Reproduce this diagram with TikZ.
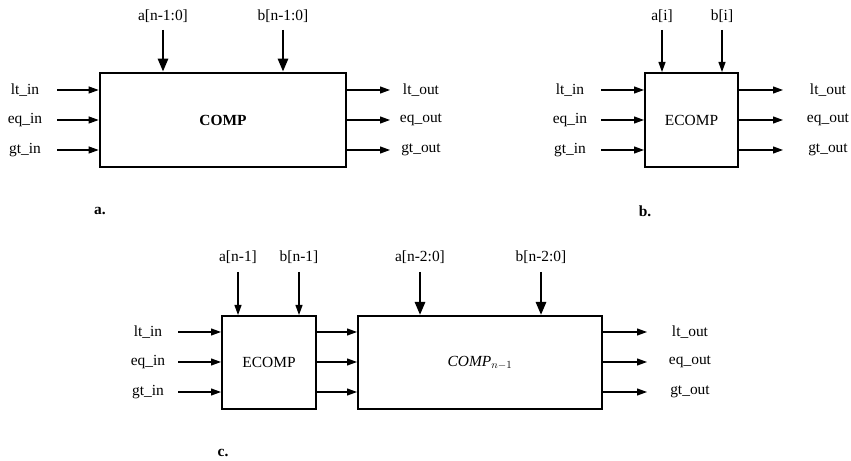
\documentclass[tikz,border=0pt]{standalone}
\usepackage{fontspec}
\setmainfont{Liberation Serif}
\usetikzlibrary{arrows.meta}

\begin{document}
\begin{tikzpicture}[x=1bp, y=-1bp, font=\fontsize{15.5}{18}\selectfont,
    sig/.style={line width=1.1bp, -{Triangle[length=10bp,width=7bp]}},
    bus/.style={line width=2.7bp, -{Triangle[length=13bp,width=10bp]}},
    blk/.style={draw, line width=2bp, inner sep=0pt}]
  \useasboundingbox (0,0) rectangle (851,461);

  % a. the n-bit comparator
  \node[blk, line width=2.7bp, minimum width=246bp, minimum height=94bp] (comp) at (223,120) {\textbf{COMP}};
  \foreach \s/\dy in {lt/-30, eq/0, gt/30} {
    \node (ina\s) at (25,{120+\dy}) {\s\_in};
    \coordinate (ia\s) at (57,{120+\dy});
    \draw[sig] (ia\s) -- (ia\s -| comp.west);
    \coordinate (oa\s) at (390,{120+\dy});
    \draw[sig] (oa\s -| comp.east) -- (oa\s);
    \node (outa\s) at (421,{120+\dy}) {\s\_out};
  }
  \foreach \v/\x in {a/163, b/283} {
    \node (bus\v) at (\x,16) {\v[n-1:0]};
    \coordinate (tb\v) at (\x,30);
    \draw[bus] (tb\v) -- (tb\v |- comp.north);
  }
  \node (capa) at (100,211) {\textbf{a.}};

  % b. one-bit comparator
  \node[blk, minimum width=93bp, minimum height=94bp] (ecomp) at (691.5,120) {ECOMP};
  \foreach \s/\dy in {lt/-30, eq/0, gt/30} {
    \node (inb\s) at (570,{120+\dy}) {\s\_in};
    \coordinate (ib\s) at (601,{120+\dy});
    \draw[sig] (ib\s) -- (ib\s -| ecomp.west);
    \coordinate (ob\s) at (783,{120+\dy});
    \draw[sig] (ob\s -| ecomp.east) -- (ob\s);
    \node (outb\s) at (828,{120+\dy}) {\s\_out};
  }
  \foreach \v/\x in {a/662, b/722} {
    \node (bit\v) at (\x,16) {\v[i]};
    \coordinate (tt\v) at (\x,30);
    \draw[sig] (tt\v) -- (tt\v |- ecomp.north);
  }
  \node (capb) at (645,211) {\textbf{b.}};

  % c. recursive construction
  \node[blk, minimum width=94bp, minimum height=93bp] (ecompc) at (269,362.5) {ECOMP};
  \node[blk, minimum width=244bp, minimum height=93bp] (compc) at (480,362.5) {$\mathit{COMP}_{n-1}$};
  \foreach \s/\dy in {lt/-30, eq/0, gt/30} {
    \node (inc\s) at (148,{362+\dy}) {\s\_in};
    \coordinate (ic\s) at (178,{362+\dy});
    \draw[sig] (ic\s) -- (ic\s -| ecompc.west);
    \coordinate (mc\s) at (316,{362+\dy});
    \draw[sig] (mc\s -| ecompc.east) -- (mc\s -| compc.west);
    \coordinate (oc\s) at (647,{362+\dy});
    \draw[sig] (oc\s -| compc.east) -- (oc\s);
    \node (outc\s) at (690,{362+\dy}) {\s\_out};
  }
  \foreach \v/\x in {a/238, b/299} {
    \node (topc\v) at (\x,257) {\v[n-1]};
    \coordinate (tc\v) at (\x,272);
    \draw[sig] (tc\v) -- (tc\v |- ecompc.north);
  }
  \foreach \v/\x in {a/420, b/541} {
    \node (busc\v) at (\x,257) {\v[n-2:0]};
    \coordinate (bc\v) at (\x,272);
    \draw[bus] (bc\v) -- (bc\v |- compc.north);
  }
  \node (capc) at (223,453) {\textbf{c.}};
\end{tikzpicture}
\end{document}
